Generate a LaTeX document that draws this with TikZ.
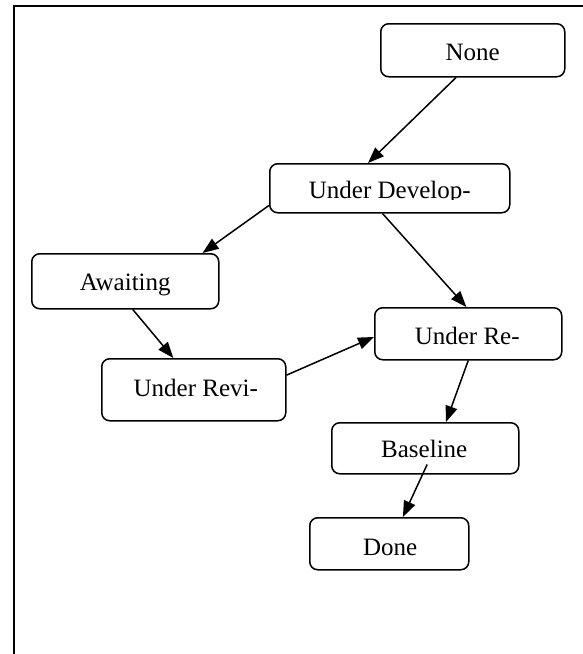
\documentclass[tikz,border=0pt]{standalone}
\usepackage{fontspec}
\setmainfont{Liberation Serif}
\usetikzlibrary{arrows.meta,calc}
\begin{document}
\begin{tikzpicture}[x=1pt,y=-1pt,
  state/.style={draw=black,line width=1.5pt,rounded corners=8pt,inner sep=0pt,anchor=north west},
  lbl/.style={font=\fontsize{25}{30}\selectfont,inner sep=0pt,anchor=base},
  flow/.style={line width=1.5pt,-{Triangle[length=16pt,width=12pt]}}]
  \useasboundingbox (0,0) rectangle (583,654);
  % outer frame (left and top sides)
  \draw[line width=2pt] (13.8,654) -- (13.8,5.8) -- (583,5.8);

  % state boxes
  \node[state,minimum width=184pt,minimum height=53pt] (none)  at (380,23)  {};
  \node[state,minimum width=240pt,minimum height=49pt] (dev)   at (269,163) {};
  \node[state,minimum width=187pt,minimum height=55pt] (await) at (31,253)  {};
  \node[state,minimum width=184pt,minimum height=62pt] (revi)  at (101,358) {};
  \node[state,minimum width=187pt,minimum height=52pt] (rev)   at (374,307) {};
  \node[state,minimum width=187pt,minimum height=51pt] (base)  at (331,422) {};
  \node[state,minimum width=159pt,minimum height=52pt] (done)  at (309,517) {};

  % labels
  \node[lbl] (noneT)  at ($(none.north)+(0,37)$)  {None};
  \begin{scope}
    \clip (269,163) rectangle (509,199);
    \node[lbl] (devT) at ($(dev.north)+(0,35)$) {Under Develop-};
  \end{scope}
  \node[lbl] (awaitT) at ($(await.north)+(0,37)$) {Awaiting};
  \node[lbl] (reviT)  at ($(revi.north)+(2,38)$)  {Under Revi-};
  \node[lbl] (revT)   at ($(rev.north)+(-1,37)$)  {Under Re-};
  \node[lbl] (baseT)  at ($(base.north)+(-1,35)$) {Baseline};
  \node[lbl] (doneT)  at ($(done.north)+(1,38)$)  {Done};

  % transitions
  \draw[flow] ($(none.south west)!0.41!(none.south east)$) -- ($(dev.north west)!0.41!(dev.north east)$);
  \draw[flow] ($(dev.north west)!0.84!(dev.south west)$) -- ($(await.north west)!0.91!(await.north east)$);
  \draw[flow] ($(dev.south west)!0.47!(dev.south east)$) -- ($(rev.north west)!0.49!(rev.north east)$);
  \draw[flow] ($(await.south west)!0.54!(await.south east)$) -- ($(revi.north west)!0.39!(revi.north east)$);
  \draw[flow] ($(revi.north east)!0.27!(revi.south east)$) -- ($(rev.north west)!0.56!(rev.south west)$);
  \draw[flow] ($(rev.south west)!0.50!(rev.south east)$) -- ($(base.north west)!0.61!(base.north east)$);
  \draw[flow] ($(base.south west)!0.51!(base.south east)+(0,-10)$) -- ($(done.north west)!0.585!(done.north east)$);
\end{tikzpicture}
\end{document}
